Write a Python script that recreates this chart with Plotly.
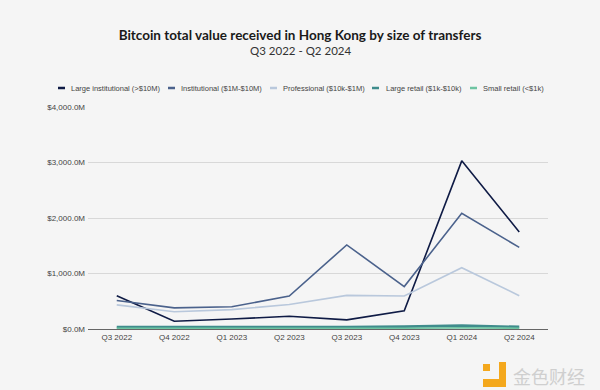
import plotly.graph_objects as go

quarters = ["Q3 2022", "Q4 2022", "Q1 2023", "Q2 2023", "Q3 2023", "Q4 2023", "Q1 2024", "Q2 2024"]
large_institutional = [600, 140, 180, 230, 165, 330, 3030, 1750]
institutional = [515, 380, 400, 595, 1515, 765, 2085, 1470]
professional = [435, 310, 350, 440, 605, 595, 1105, 600]
large_retail = [35, 32, 30, 32, 35, 42, 60, 38]
small_retail = [12, 11, 10, 11, 12, 14, 20, 14]

series_names = ["Large institutional (>$10M)", "Institutional ($1M-$10M)", "Professional ($10k-$1M)",
                "Large retail ($1k-$10k)", "Small retail (<$1k)"]
series_values = [large_institutional, institutional, professional, large_retail, small_retail]
series_colors = ["#0f1b45", "#4b628c", "#b9c8dc", "#3f8c8c", "#6ec4a2"]
series_widths = [1.6, 1.6, 1.6, 2.6, 1.6]

y_ticks = [0, 1000, 2000, 3000, 4000]
y_tick_labels = ["$0.0M", "$1,000.0M", "$2,000.0M", "$3,000.0M", "$4,000.0M"]

W, H = 600, 390
ML, MR, MT, MB = 88, 52, 107, 61
PW, PH = W - ML - MR, H - MT - MB


def px_x(px):
    return (px - ML) / PW


def px_y(py):
    return (H - MB - py) / PH


fig = go.Figure()
for name, vals, col, w in zip(series_names, series_values, series_colors, series_widths):
    fig.add_trace(go.Scatter(x=quarters, y=vals, name=name, mode="lines",
                             line=dict(color=col, width=w), showlegend=False))

fig.update_layout(
    width=W, height=H,
    paper_bgcolor="#f5f5f5", plot_bgcolor="#f5f5f5",
    font=dict(family="Liberation Sans, Arial, sans-serif", color="#444444", size=8),
    margin=dict(l=ML, r=MR, t=MT, b=MB, autoexpand=False),
    title=dict(
        text="<b>Bitcoin total value received in Hong Kong by size of transfers</b>",
        x=0.5, xref="container", xanchor="center", y=1 - 35 / H, yanchor="middle",
        font=dict(size=13.5, color="#1a1a1a", family="Lato, Roboto, sans-serif"),
    ),
    showlegend=False,
)
fig.add_annotation(text="Q3 2022 - Q2 2024", xref="paper", yref="paper", x=px_x(300), y=px_y(51),
                   xanchor="center", yanchor="middle", showarrow=False,
                   font=dict(size=11.5, color="#333333", family="Lato, Roboto, sans-serif"))
fig.update_xaxes(type="category", range=[-0.5, 7.5], showgrid=False, showline=True,
                 linecolor="#666666", linewidth=1, ticks="", tickfont=dict(size=8, color="#444444"))
fig.update_yaxes(range=[0, 4000], tickvals=y_ticks, ticktext=y_tick_labels, showgrid=True,
                 gridcolor="#d8d8d8", gridwidth=1, zeroline=False, ticks="",
                 tickfont=dict(size=8, color="#444444"), ticklabelstandoff=2)

# custom compact legend (short dash + label), as in the reference
legend_symbol_px = [58, 168, 270, 372, 470]
legend_text_px = [69, 179, 281, 384, 481]
legend_y = px_y(88)
for name, col, sx, tx in zip(series_names, series_colors, legend_symbol_px, legend_text_px):
    fig.add_shape(type="line", xref="paper", yref="paper", x0=px_x(sx), x1=px_x(sx + 7),
                  y0=legend_y, y1=legend_y, line=dict(color=col, width=2.5))
    fig.add_annotation(text=name, xref="paper", yref="paper", x=px_x(tx), y=legend_y,
                       xanchor="left", yanchor="middle", showarrow=False,
                       font=dict(size=7.5, color="#444444", family="Liberation Sans, Arial, sans-serif"))

# watermark logo
logo = "#f4a81d"
fig.add_shape(type="rect", xref="paper", yref="paper", x0=px_x(483), x1=px_x(490), y0=px_y(371), y1=px_y(364),
              fillcolor=logo, line=dict(width=0))
fig.add_shape(type="rect", xref="paper", yref="paper", x0=px_x(499), x1=px_x(506), y0=px_y(387), y1=px_y(362),
              fillcolor=logo, line=dict(width=0))
fig.add_shape(type="rect", xref="paper", yref="paper", x0=px_x(483), x1=px_x(506), y0=px_y(387), y1=px_y(379),
              fillcolor=logo, line=dict(width=0))
fig.add_annotation(text="金色财经", xref="paper", yref="paper", x=px_x(511), y=px_y(376),
                   xanchor="left", yanchor="middle", showarrow=False,
                   font=dict(size=18, color="#cfcfcf", family="Noto Sans CJK SC"))

fig.write_html("out.html", config={"displayModeBar": False},
               post_script="document.body.style.margin='0';document.body.style.padding='0';")
